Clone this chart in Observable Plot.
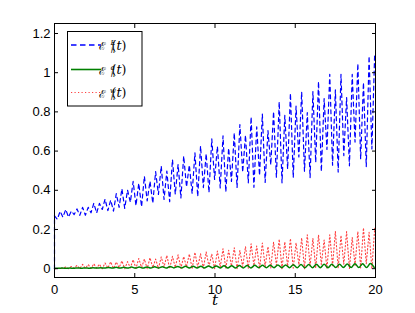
<!DOCTYPE html>
<html><head><meta charset="utf-8">
<script src="https://cdn.jsdelivr.net/npm/d3@7"></script>
<script src="https://cdn.jsdelivr.net/npm/@observablehq/plot@0.6"></script>
<style>body{margin:0;background:#fff} svg{display:block}</style>
</head><body><div id="chart"></div>
<script>
const xTicks = [0, 5, 10, 15, 20];
const yTicks = [0, 0.2, 0.4, 0.6, 0.8, 1, 1.2];
const xLabel = "t";

// E_h^E(t): starts at 0, then oscillation extremes every half-period (dtE)
const energyEStart = 0;
const dtE = 0.175;
const energyE = [0.270,0.252,0.293,0.263,0.302,0.263,0.294,0.276,0.305,0.272,
  0.313,0.273,0.313,0.285,0.334,0.284,0.333,0.302,0.355,0.296,
  0.350,0.294,0.383,0.313,0.408,0.308,0.401,0.339,0.445,0.322,
  0.436,0.316,0.472,0.346,0.446,0.334,0.495,0.379,0.524,0.353,
  0.498,0.342,0.557,0.380,0.532,0.361,0.575,0.417,0.529,0.383,
  0.591,0.368,0.626,0.414,0.587,0.389,0.662,0.455,0.624,0.412,
  0.678,0.392,0.615,0.445,0.693,0.414,0.735,0.492,0.681,0.438,
  0.774,0.415,0.724,0.476,0.789,0.440,0.705,0.530,0.802,0.466,
  0.852,0.438,0.782,0.509,0.895,0.465,0.829,0.570,0.902,0.497,
  0.796,0.465,0.904,0.543,0.955,0.496,0.868,0.608,0.992,0.528,
  0.912,0.493,0.992,0.577,0.873,0.525,0.991,0.646,1.047,0.559,
  0.950,0.521,1.085,0.611,1.098];

// E_h^w(t)
const dtW = 0.175;
const energyW = [0,0,0.004,0.001,0.009,0,0.011,0.002,0.017,0,
  0.022,0.002,0.021,0.001,0.025,0.003,0.023,0,0.029,0.003,
  0.035,0.001,0.034,0.005,0.040,0,0.036,0.004,0.046,0.001,
  0.052,0.006,0.049,0,0.056,0.005,0.049,0.001,0.060,0.008,
  0.068,0,0.063,0.006,0.071,0.002,0.062,0.009,0.075,0,
  0.084,0.007,0.076,0.002,0.086,0.011,0.075,0,0.090,0.008,
  0.102,0.002,0.094,0.013,0.107,0,0.093,0.010,0.113,0.002,
  0.127,0.015,0.116,0,0.131,0.011,0.113,0.003,0.136,0.018,
  0.151,0,0.137,0.013,0.154,0.003,0.132,0.020,0.157,0,
  0.173,0.014,0.155,0.004,0.172,0.022,0.146,0,0.173,0.015,
  0.190,0.004,0.170,0.023,0.189,0,0.160,0.016,0.190,0.004,
  0.208,0.025,0.186,0,0.206];

// E_h^d(t)
const dtD = 0.24;
const energyD = [0.002,0.002,0.003,0.002,0.003,0.002,0.004,0.002,0.004,0.002,
  0.005,0.003,0.005,0.003,0.006,0.003,0.007,0.003,0.007,0.003,
  0.008,0.003,0.008,0.003,0.009,0.003,0.010,0.003,0.010,0.003,
  0.011,0.004,0.011,0.004,0.012,0.004,0.012,0.004,0.013,0.004,
  0.014,0.004,0.014,0.004,0.015,0.004,0.015,0.004,0.016,0.004,
  0.016,0.004,0.017,0.005,0.018,0.005,0.018,0.005,0.019,0.005,
  0.019,0.005,0.020,0.005,0.021,0.005,0.021,0.005,0.022,0.005,
  0.022,0.005,0.023,0.006,0.023,0.006,0.024,0.006,0.025,0.006,
  0.025,0.006,0.026,0.006];

const seriesSup = ["E", "d", "w"];
const seriesColor = ["#0000ff", "#008000", "#ff0000"];
const seriesOpacity = [1, 1, 0.75];
const seriesDash = ["4,3.5", null, "1.2,2.3"];
const legendDash = ["5.5,3.5", null, "1.2,2.3"];
const seriesWidth = [1.2, 1.5, 1.1];

const dataE = energyE.map((v, k) => ({t: k * dtE, v}));
const dataEStart = [{t: 0, v: energyEStart}, {t: 0, v: energyE[0]}];
const dataW = energyW.map((v, k) => ({t: k * dtW, v}));
const dataD = energyD.map((v, k) => ({t: k * dtD, v}));

const font = "'Liberation Sans', Arial, Helvetica, sans-serif";

const plot = Plot.plot({
  width: 415, height: 313,
  marginLeft: 54, marginRight: 40, marginTop: 23, marginBottom: 36,
  style: {fontFamily: font, fontSize: "13px", background: "white", color: "black"},
  x: {domain: [0, 20], label: null},
  y: {domain: [-0.045, 1.251], label: null},
  marks: [
    Plot.line(dataW, {x: "t", y: "v", stroke: seriesColor[2], strokeOpacity: seriesOpacity[2], strokeWidth: seriesWidth[2], strokeDasharray: seriesDash[2]}),
    Plot.line(dataD, {x: "t", y: "v", curve: "monotone-x", stroke: seriesColor[1], strokeWidth: seriesWidth[1]}),
    Plot.line(dataEStart, {x: "t", y: "v", stroke: seriesColor[0], strokeWidth: seriesWidth[0], strokeDasharray: seriesDash[0]}),
    Plot.line(dataE, {x: "t", y: "v", stroke: seriesColor[0], strokeWidth: seriesWidth[0], strokeDasharray: seriesDash[0]}),
    Plot.frame({stroke: "black"}),
    Plot.axisX({ticks: xTicks, tickSize: -4, tickPadding: 11, tickFormat: d => String(d), label: null}),
    Plot.axisX({anchor: "top", ticks: xTicks, tickSize: -4, tickFormat: () => "", label: null}),
    Plot.axisY({ticks: yTicks, tickSize: -4, tickPadding: 8, tickFormat: d => String(d), label: null}),
    Plot.axisY({anchor: "right", ticks: yTicks, tickSize: -4, tickFormat: () => "", label: null}),
    Plot.text([xLabel], {frameAnchor: "bottom", dy: 27, text: d => d, fontStyle: "italic", fontFamily: "'DejaVu Serif', serif", fontSize: 15})
  ]
});
document.getElementById("chart").appendChild(plot);

// legend inside the axes (upper left)
const svg = d3.select(plot);
const g = svg.append("g");
g.append("rect").attr("x", 67.5).attr("y", 31.5).attr("width", 74.5).attr("height", 74.5)
  .attr("fill", "white").attr("stroke", "black");
const rowY = [45, 69.5, 92.5];
const serif = "'DejaVu Serif', serif";
seriesSup.forEach((s, i) => {
  const y = rowY[i];
  const ln = g.append("line").attr("x1", 71).attr("x2", 101).attr("y1", y).attr("y2", y)
    .attr("stroke", seriesColor[i]).attr("stroke-opacity", seriesOpacity[i]).attr("stroke-width", seriesWidth[i] + 0.1);
  if (legendDash[i]) ln.attr("stroke-dasharray", legendDash[i]);
  g.append("text").attr("x", 102.5).attr("y", y + 5).attr("font-family", serif).attr("font-size", 11).text("\u2130");
  g.append("text").attr("x", 113).attr("y", y + 0.3).attr("font-family", serif).attr("font-size", 7).attr("font-style", "italic").text(s);
  g.append("text").attr("x", 113).attr("y", y + 7.5).attr("font-family", serif).attr("font-size", 7).attr("font-style", "italic").text("h");
  const t = g.append("text").attr("x", 119).attr("y", y + 4.6).attr("font-family", serif).attr("font-size", 12.5);
  t.append("tspan").text("(");
  t.append("tspan").attr("font-style", "italic").text("t");
  t.append("tspan").text(")");
});
</script>
</body></html>
